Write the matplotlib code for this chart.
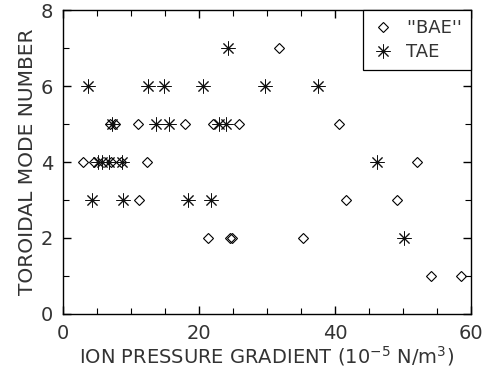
import matplotlib
matplotlib.use("Agg")
import matplotlib.pyplot as plt
from matplotlib.ticker import MultipleLocator

# "BAE" observations: ion pressure gradient (1e-5 N/m^3) vs toroidal mode number
bae_x = [3.0, 4.6, 7.1, 8.5, 12.3, 52.1,
         6.9, 7.7, 11.0, 17.9, 22.1, 25.9, 40.6,
         31.8,
         11.2, 41.6, 49.1,
         21.3, 24.6, 24.9, 35.3,
         54.1, 58.5]
bae_n = [4, 4, 4, 4, 4, 4,
         5, 5, 5, 5, 5, 5, 5,
         7,
         3, 3, 3,
         2, 2, 2, 2,
         1, 1]

# TAE observations
tae_x = [24.3,
         3.7, 12.5, 14.8, 20.6, 29.7, 37.5,
         7.2, 13.7, 15.6, 23.0, 24.0,
         5.1, 5.7, 6.8, 8.7, 46.2,
         4.3, 8.8, 18.4, 21.8,
         50.1]
tae_n = [7,
         6, 6, 6, 6, 6, 6,
         5, 5, 5, 5, 5,
         4, 4, 4, 4, 4,
         3, 3, 3, 3,
         2]

x_ticks = [0, 20, 40, 60]
y_ticks = [0, 2, 4, 6, 8]

plt.rcParams['font.family'] = ['DejaVu Sans']
text_color = '#333333'
fig = plt.figure(figsize=(4.84, 3.72), dpi=100)
ax = fig.add_axes([0.130, 0.156, 0.843, 0.817])

ax.plot(bae_x, bae_n, linestyle='none', marker='D', markersize=5,
        markerfacecolor='none', markeredgecolor='black', markeredgewidth=0.8,
        label="''BAE''")
ax.plot(tae_x, tae_n, linestyle='none', marker=(8, 2, 0), markersize=10,
        markeredgecolor='#111111', markeredgewidth=0.7, color='#111111',
        label='TAE')

ax.set_xlim(0, 60)
ax.set_ylim(0, 8)
ax.set_xticks(x_ticks)
ax.set_yticks(y_ticks)
ax.xaxis.set_minor_locator(MultipleLocator(5))
ax.yaxis.set_minor_locator(MultipleLocator(1))
ax.tick_params(which='both', direction='in', top=True, right=True,
               labelsize=14, labelcolor=text_color, pad=7)
ax.tick_params(which='major', length=6, width=1)
ax.tick_params(which='minor', length=4, width=0.8)
for sp in ax.spines.values():
    sp.set_linewidth(1.0)

ax.set_xlabel('ION PRESSURE GRADIENT (10$^{-5}$ N/m$^{3}$)', fontsize=14,
              color=text_color, labelpad=1)
ax.set_ylabel('TOROIDAL MODE NUMBER', fontsize=14.5, color=text_color, labelpad=3)

leg = ax.legend(loc='upper right', borderaxespad=0, fancybox=False,
                edgecolor='black', framealpha=1, fontsize=13,
                handletextpad=0.7, borderpad=0.5, labelspacing=0.35,
                handlelength=1.2)
leg.get_frame().set_linewidth(0.9)
for t in leg.get_texts():
    t.set_color(text_color)

fig.savefig('out.png', dpi=100)
